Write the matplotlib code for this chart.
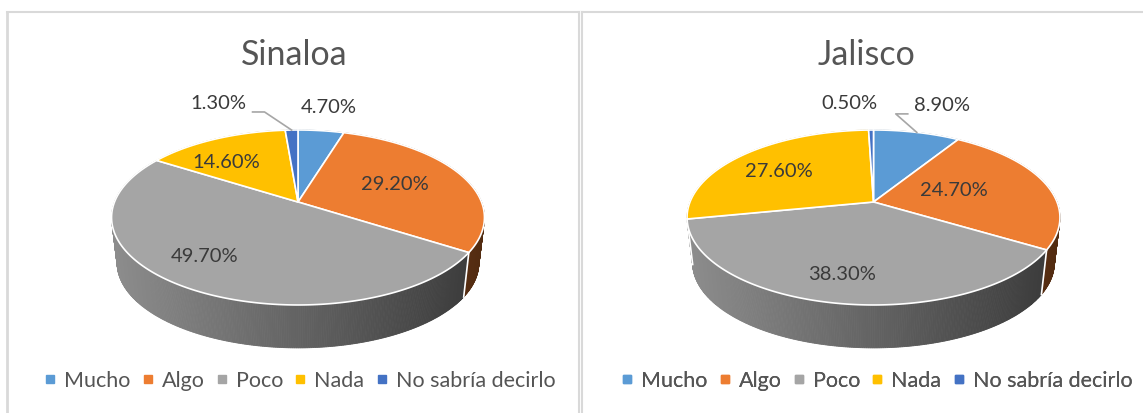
import numpy as np
import matplotlib
matplotlib.use("Agg")
import matplotlib.pyplot as plt
from matplotlib.patches import Polygon
from matplotlib.lines import Line2D
import matplotlib.colors as mcolors

# ---------------- data ----------------
categories = ["Mucho", "Algo", "Poco", "Nada", "No sabría decirlo"]
sinaloa_values = [4.7, 29.2, 49.7, 14.6, 1.3]
jalisco_values = [8.9, 24.7, 38.3, 27.6, 0.5]
chart_titles = ["Sinaloa", "Jalisco"]

# ---------------- style ----------------
slice_colors = ["#5B9BD5", "#ED7D31", "#A5A5A5", "#FFC000", "#4472C4"]
FONT = ["Lato", "DejaVu Sans"]
LABEL_COLOR = "#3A3A3A"
TEXT_COLOR = "#555555"

W, H = 1143, 413
fig = plt.figure(figsize=(W / 100, H / 100), dpi=100)
ax = fig.add_axes([0, 0, 1, 1])
ax.set_xlim(0, W)
ax.set_ylim(H, 0)
ax.axis("off")

# panel borders
bc = "#D9D9D9"
ax.plot([7, 7], [12, H], color=bc, lw=2, solid_capstyle="butt")
ax.plot([7, 579], [12, 12], color=bc, lw=1.5)
ax.plot([579, 579], [12, H], color=bc, lw=1.5)
ax.plot([582, 582], [12, H], color=bc, lw=1.5)
ax.plot([582, W], [12, 12], color=bc, lw=1.5)

# pie geometry (perspective ellipse)
K = 0.177
A = 84.75
B = 183.5
DEPTH = 46
BOT_SCALE = 0.97

# label layout per panel: (mode, dx, dy, leader)
layouts = [
    [("out", 0, 0, False), ("in", -6, 0, False), ("in", -26, 6, False),
     ("in", -18, 2, False), ("out", -71, -3, True)],
    [("out", 11, -4, True), ("in", -27, 0, False), ("in", -10, 14, False),
     ("in", -11, 0, False), ("out", -21, -3, False)],
]
panels = [
    dict(values=sinaloa_values, title=chart_titles[0], cx=298, vy=202, tx=294, lx=300),
    dict(values=jalisco_values, title=chart_titles[1], cx=873.5, vy=202, tx=866, lx=877),
]


def proj(cx, vy, theta, f=1.0, bottom=False):
    u = f * np.sin(theta)
    v = f * np.cos(theta)
    s = 1.0 / (1.0 + K * v)
    if bottom:
        return cx + BOT_SCALE * B * u * s, vy + DEPTH - BOT_SCALE * A * v * s
    return cx + B * u * s, vy - A * v * s


def shade(color, x, cx):
    t = np.clip((x - (cx - B)) / (2 * B), 0, 1)
    fct = 0.85 - 0.5 * t
    r, g, b = mcolors.to_rgb(color)
    return (r * fct, g * fct, b * fct)


for p, layout in zip(panels, layouts):
    vals = np.array(p["values"], dtype=float)
    frac = vals / vals.sum()
    edges = np.concatenate([[0], np.cumsum(frac)]) * 2 * np.pi
    cx, vy = p["cx"], p["vy"]

    # side walls as thin strips, back to front
    strips = []
    for i in range(len(vals)):
        th = np.linspace(edges[i], edges[i + 1], max(3, int(np.degrees(edges[i + 1] - edges[i]) * 2)))
        for a0, a1 in zip(th[:-1], th[1:]):
            x0, y0 = proj(cx, vy, a0)
            x1, y1 = proj(cx, vy, a1)
            x2, y2 = proj(cx, vy, a1, bottom=True)
            x3, y3 = proj(cx, vy, a0, bottom=True)
            depth = np.cos((a0 + a1) / 2)
            col = shade(slice_colors[i], (x0 + x1) / 2, cx)
            strips.append((-depth, [(x0, y0), (x1, y1), (x2, y2), (x3, y3)], col))
    strips.sort(key=lambda s: s[0])
    for _, poly, col in strips:
        ax.add_patch(Polygon(poly, closed=True, facecolor=col, edgecolor=col, lw=0.6, zorder=1))
    # white separators on visible side at slice boundaries
    for e in edges[:-1]:
        if np.cos(e) < -K:
            xa, ya = proj(cx, vy, e)
            xb, yb = proj(cx, vy, e, bottom=True)
            ax.plot([xa, xb], [ya, yb], color="white", lw=1.2, zorder=2)

    # top surface
    for i in range(len(vals)):
        th = np.linspace(edges[i], edges[i + 1], max(3, int(np.degrees(edges[i + 1] - edges[i]) * 2)))
        pts = [(cx, vy)] + [proj(cx, vy, t) for t in th]
        ax.add_patch(Polygon(pts, closed=True, facecolor=slice_colors[i], edgecolor="white",
                             lw=1.2, joinstyle="round", zorder=3))

    # title
    ax.text(p["tx"], 55, p["title"], ha="center", va="center", fontsize=24.5,
            color=TEXT_COLOR, family=FONT, zorder=5)

    # labels
    for i in range(len(vals)):
        mode, dx, dy, leader = layout[i]
        mid = (edges[i] + edges[i + 1]) / 2
        f = 0.62 if mode == "in" else 1.4
        x, y = proj(cx, vy, mid, f)
        x += dx
        y += dy
        t = ax.text(x, y, f"{vals[i]:.2f}%", ha="center", va="center", fontsize=14.5,
                    color=LABEL_COLOR, family=FONT, zorder=6)
        if leader:
            fig.canvas.draw()
            bb = t.get_window_extent(renderer=fig.canvas.get_renderer())
            hw = bb.width / 2
            ax_x, ax_y = proj(cx, vy, mid, 1.0)
            ly = y + 8
            if x < ax_x:
                sx = x + hw + 6
                ex = sx + 12
            else:
                sx = x - hw - 6
                ex = sx - 12
            ax.plot([sx, ex, ax_x], [ly, ly, ax_y], color="#A6A6A6", lw=1.2, zorder=4)

    # legend
    handles = [Line2D([], [], marker="s", ls="", markersize=5.5, color=c) for c in slice_colors]
    leg = ax.legend(handles, categories, loc="center", ncol=5,
                    bbox_to_anchor=(p["lx"], 381), bbox_transform=ax.transData,
                    frameon=False, handlelength=0.5, handletextpad=0.4, columnspacing=0.55,
                    prop={"family": FONT, "size": 15.5}, labelcolor=TEXT_COLOR,
                    borderaxespad=0, borderpad=0)
    ax.add_artist(leg)

fig.savefig("out.png", dpi=100, facecolor="white")
